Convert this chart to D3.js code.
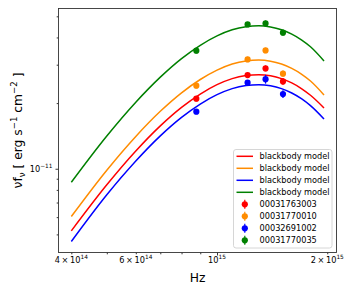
<!DOCTYPE html>
<html><head><meta charset="utf-8">
<script src="https://cdn.jsdelivr.net/npm/d3@7"></script>
<style>
html,body{margin:0;padding:0;background:#fff;}
svg{display:block;font-family:"DejaVu Sans",sans-serif;}
</style>
</head><body><div id="chart"></div>
<script>
// ---- data (flux values in units of 1e-11 erg s^-1 cm^-2) ----
const freqModel   = [4e14, 5e14, 6e14, 7e14, 8e14, 9e14, 1e15, 1.1e15, 1.2e15, 1.3e15, 1.4e15, 1.5e15, 1.6e15, 1.7e15, 1.8e15, 1.96e15];
const modelRed    = [0.519, 0.844, 1.206, 1.572, 1.911, 2.200, 2.429, 2.590, 2.675, 2.700, 2.669, 2.590, 2.474, 2.332, 2.172, 1.900];
const modelOrange = [0.604, 0.985, 1.407, 1.834, 2.230, 2.566, 2.833, 3.022, 3.121, 3.150, 3.114, 3.022, 2.886, 2.718, 2.525, 2.180];
const modelBlue   = [0.464, 0.760, 1.085, 1.415, 1.720, 1.980, 2.186, 2.331, 2.408, 2.430, 2.402, 2.331, 2.226, 2.097, 1.948, 1.692];
const modelGreen  = [0.867, 1.413, 2.019, 2.631, 3.200, 3.682, 4.066, 4.336, 4.478, 4.520, 4.468, 4.336, 4.141, 3.901, 3.624, 3.120];

const freqObs   = [8.78e14, 1.212e15, 1.357e15, 1.514e15];
const obsRed    = [2.095, 2.688, 2.885, 2.514];
const obsOrange = [2.403, 3.172, 3.488, 2.728];
const obsBlue   = [1.826, 2.480, 2.576, 2.199];
const obsGreen  = [3.478, 4.591, 4.640, 4.206];
const errRed    = [0.06, 0.07, 0.09, 0.09];
const errOrange = [0.07, 0.09, 0.10, 0.09];
const errBlue   = [0.05, 0.07, 0.12, 0.09];
const errGreen  = [0.10, 0.12, 0.14, 0.13];

const obsIds = ["00031763003", "00031770010", "00032691002", "00031770035"];
const modelLabel = "blackbody model";
const seriesColors = ["red", "darkorange", "blue", "green"];

const xTickMajor = [1e15];
const xTickMinor = [4e14, 5e14, 6e14, 7e14, 8e14, 9e14, 2e15];
const xTickLabelVals = [4e14, 6e14, 1e15, 2e15];
const xTickLabelMant = ["4\u2009×\u200910", "6\u2009×\u200910", "10", "2\u2009×\u200910"];
const xTickLabelExp  = ["14", "14", "15", "15"];
const yTickMajor = [1e-11];
const yTickMinor = [5e-12, 6e-12, 7e-12, 8e-12, 9e-12, 2e-11, 3e-11, 4e-11, 5e-11];
const yTickLabelMant = ["10"];
const yTickLabelExp  = ["−11"];

// ---- layout ----
const W = 354, H = 295;
const L = 58.5, R = 336.5, T = 8.5, B = 252.5;
const UNIT = 1e-11;

const svg = d3.select("#chart").append("svg").attr("width", W).attr("height", H);
svg.append("rect").attr("width", W).attr("height", H).attr("fill", "#fff");

const x = d3.scaleLog().domain([3.69e14, 2.12e15]).range([L, R]);
const y = d3.scaleLog().domain([4.13e-12, 5.43e-11]).range([B, T]);

// ---- curves ----
const models = [modelRed, modelOrange, modelBlue, modelGreen];
const line = d3.line()
  .x((d, i) => x(freqModel[i]))
  .y(d => y(d * UNIT))
  .curve(d3.curveMonotoneX);
const plot = svg.append("g");
models.forEach((m, k) => {
  plot.append("path").datum(m).attr("d", line)
    .attr("fill", "none").attr("stroke", seriesColors[k]).attr("stroke-width", 1.5);
});

// ---- observed points ----
const obs = [obsRed, obsOrange, obsBlue, obsGreen];
const errs = [errRed, errOrange, errBlue, errGreen];
obs.forEach((o, k) => {
  const g = plot.append("g");
  o.forEach((v, i) => {
    g.append("line")
      .attr("x1", x(freqObs[i])).attr("x2", x(freqObs[i]))
      .attr("y1", y((v - errs[k][i]) * UNIT)).attr("y2", y((v + errs[k][i]) * UNIT))
      .attr("stroke", seriesColors[k]).attr("stroke-width", 1.2);
    g.append("circle").attr("cx", x(freqObs[i])).attr("cy", y(v * UNIT))
      .attr("r", 3.1).attr("fill", seriesColors[k]);
  });
});

// ---- axes ----
const axColor = "#000";
function styleAxis(g) {
  g.select(".domain").remove();
  g.selectAll(".tick line").attr("stroke", axColor).attr("stroke-width", 0.8);
  g.selectAll(".tick text").remove();
}
svg.append("g").attr("transform", `translate(0,${B})`)
  .call(d3.axisBottom(x).tickValues(xTickMinor).tickSize(1.8).tickFormat("")).call(styleAxis);
svg.append("g").attr("transform", `translate(0,${B})`)
  .call(d3.axisBottom(x).tickValues(xTickMajor).tickSize(3).tickFormat("")).call(styleAxis);
svg.append("g").attr("transform", `translate(${L},0)`)
  .call(d3.axisLeft(y).tickValues(yTickMinor).tickSize(1.8).tickFormat("")).call(styleAxis);
svg.append("g").attr("transform", `translate(${L},0)`)
  .call(d3.axisLeft(y).tickValues(yTickMajor).tickSize(3).tickFormat("")).call(styleAxis);

// frame
svg.append("rect").attr("x", L).attr("y", T).attr("width", R - L).attr("height", B - T)
  .attr("fill", "none").attr("stroke", "#333").attr("stroke-width", 0.9);

// tick labels
xTickLabelVals.forEach((v, i) => {
  const t = svg.append("text").attr("x", x(v)).attr("y", 262.5)
    .attr("text-anchor", "middle").attr("font-size", 8.2).attr("fill", "#000");
  t.append("tspan").text(xTickLabelMant[i]);
  t.append("tspan").attr("dy", -3.4).attr("font-size", 5.8).text(xTickLabelExp[i]);
});
yTickMajor.forEach((v, i) => {
  const t = svg.append("text").attr("x", 52.5).attr("y", y(v) + 3)
    .attr("text-anchor", "end").attr("font-size", 8.2).attr("fill", "#000");
  t.append("tspan").text(yTickLabelMant[i]);
  t.append("tspan").attr("dy", -3.4).attr("font-size", 5.8).text(yTickLabelExp[i]);
});

// axis labels
svg.append("text").attr("x", (L + R) / 2).attr("y", 281.5).attr("text-anchor", "middle")
  .attr("font-size", 12.3).attr("fill", "#000").text("Hz");
const yl = svg.append("text").attr("transform", `translate(22,${(T + B) / 2}) rotate(-90)`)
  .attr("text-anchor", "middle").attr("font-size", 12.3).attr("fill", "#000");
yl.append("tspan").text("νf");
yl.append("tspan").attr("dy", 2.6).attr("font-size", 8.6).text("ν");
yl.append("tspan").attr("dy", -2.6).text(" [ erg s");
yl.append("tspan").attr("dy", -4.6).attr("font-size", 8.6).text("−1");
yl.append("tspan").attr("dy", 4.6).text(" cm");
yl.append("tspan").attr("dy", -4.6).attr("font-size", 8.6).text("−2");
yl.append("tspan").attr("dy", 4.6).text(" ]");

// ---- legend ----
const lg = svg.append("g");
lg.append("rect").attr("x", 233.5).attr("y", 149.5).attr("width", 98.5).attr("height", 98.5)
  .attr("rx", 2.5).attr("fill", "#fff").attr("fill-opacity", 0.8)
  .attr("stroke", "#cccccc").attr("stroke-width", 0.8);
const rowY0 = 156.3, rowStep = 12.0;
seriesColors.forEach((c, k) => {
  const yy = rowY0 + k * rowStep;
  lg.append("line").attr("x1", 236.5).attr("x2", 253).attr("y1", yy).attr("y2", yy)
    .attr("stroke", c).attr("stroke-width", 1.5);
  lg.append("text").attr("x", 259.5).attr("y", yy + 3).attr("font-size", 8.2).attr("fill", "#000").text(modelLabel);
});
obsIds.forEach((id, k) => {
  const yy = rowY0 + (k + 4) * rowStep;
  const c = seriesColors[k];
  lg.append("line").attr("x1", 244.8).attr("x2", 244.8).attr("y1", yy - 4.5).attr("y2", yy + 4.5)
    .attr("stroke", c).attr("stroke-width", 1.2);
  lg.append("circle").attr("cx", 244.8).attr("cy", yy).attr("r", 3.1).attr("fill", c);
  lg.append("text").attr("x", 259.5).attr("y", yy + 3).attr("font-size", 8.2).attr("fill", "#000").text(id);
});
</script>
</body></html>
